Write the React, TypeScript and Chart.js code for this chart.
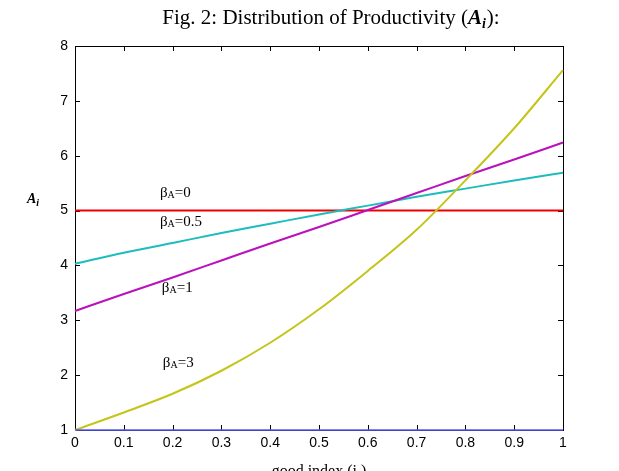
import React, { useEffect, useRef } from "react";
import { Chart, registerables } from "chart.js";

Chart.register(...registerables);

// good index i on [0, 1]
const goodIndex = [0, 0.1, 0.2, 0.3, 0.4, 0.5, 0.6, 0.7, 0.8, 0.9, 1];

// productivity A_i for each beta_A
const betaA0 = [5, 5, 5, 5, 5, 5, 5, 5, 5, 5, 5];
const betaA05 = [4.03, 4.23, 4.41, 4.59, 4.76, 4.93, 5.09, 5.25, 5.4, 5.55, 5.69];
const betaA1 = [3.17, 3.48, 3.78, 4.09, 4.4, 4.7, 5.01, 5.32, 5.63, 5.93, 6.24];
const betaA3 = [1.0, 1.32, 1.66, 2.08, 2.59, 3.2, 3.9, 4.65, 5.55, 6.5, 7.56];
const baseline = [1, 1, 1, 1, 1, 1, 1, 1, 1, 1, 1];

const xTicks = [0, 0.1, 0.2, 0.3, 0.4, 0.5, 0.6, 0.7, 0.8, 0.9, 1];
const xTickLabels = ["0", "0.1", "0.2", "0.3", "0.4", "0.5", "0.6", "0.7", "0.8", "0.9", "1"];
const yTicks = [1, 2, 3, 4, 5, 6, 7, 8];
const yTickLabels = ["1", "2", "3", "4", "5", "6", "7", "8"];

// curve labels: [value text, x in data units, y in data units]
const curveLabels: [string, number, number][] = [
  ["0", 0.174, 5.25],
  ["0.5", 0.174, 4.72],
  ["1", 0.178, 3.52],
  ["3", 0.18, 2.15],
];

const tickFont = "14px 'Liberation Sans', Arial, sans-serif";
const serif = "'Liberation Serif', 'Times New Roman', serif";

const frame = {
  id: "matlabFrame",
  beforeDatasetsDraw(chart: any) {
    const { ctx, chartArea: a, scales } = chart;
    const xs = scales.x;
    const ys = scales.y;
    ctx.save();
    ctx.strokeStyle = "#000";
    ctx.lineWidth = 1;
    ctx.strokeRect(Math.round(a.left) + 0.5, Math.round(a.top) + 0.5, Math.round(a.right - a.left), Math.round(a.bottom - a.top));
    const tl = 5;
    ctx.beginPath();
    xTicks.forEach((v) => {
      const px = Math.round(xs.getPixelForValue(v)) + 0.5;
      ctx.moveTo(px, a.bottom);
      ctx.lineTo(px, a.bottom - tl);
      ctx.moveTo(px, a.top);
      ctx.lineTo(px, a.top + tl);
    });
    yTicks.forEach((v) => {
      const py = Math.round(ys.getPixelForValue(v)) + 0.5;
      ctx.moveTo(a.left, py);
      ctx.lineTo(a.left + tl, py);
      ctx.moveTo(a.right, py);
      ctx.lineTo(a.right - tl, py);
    });
    ctx.stroke();
    ctx.restore();
  },
  afterDraw(chart: any) {
    const { ctx, chartArea: a, scales } = chart;
    const xs = scales.x;
    const ys = scales.y;
    ctx.save();
    ctx.fillStyle = "#000";

    // tick labels
    ctx.font = tickFont;
    ctx.textAlign = "center";
    ctx.textBaseline = "top";
    xTicks.forEach((v, i) => ctx.fillText(xTickLabels[i], xs.getPixelForValue(v), a.bottom + 6));
    ctx.textAlign = "right";
    ctx.textBaseline = "middle";
    yTicks.forEach((v, i) => ctx.fillText(yTickLabels[i], a.left - 7, ys.getPixelForValue(v)));

    // title
    ctx.textBaseline = "alphabetic";
    ctx.textAlign = "left";
    const t1 = "Fig. 2: Distribution of Productivity (";
    const fMain = `21px ${serif}`;
    const fA = `bold italic 21px ${serif}`;
    const fSub = `bold italic 14px ${serif}`;
    ctx.font = fMain;
    const w1 = ctx.measureText(t1).width;
    const w3 = ctx.measureText("):").width;
    ctx.font = fA;
    const w2 = ctx.measureText("A").width;
    ctx.font = fSub;
    const wSub = ctx.measureText("i").width;
    const total = w1 + w2 + wSub + 1 + w3;
    let tx = 331 - total / 2;
    const ty = 24;
    ctx.font = fMain;
    ctx.fillText(t1, tx, ty);
    tx += w1;
    ctx.font = fA;
    ctx.fillText("A", tx, ty);
    tx += w2;
    ctx.font = fSub;
    ctx.fillText("i", tx, ty + 4);
    tx += wSub + 1;
    ctx.font = fMain;
    ctx.fillText("):", tx, ty);

    // y axis label A_i
    ctx.font = `bold italic 14px ${serif}`;
    ctx.fillText("A", 27, 203);
    const wa = ctx.measureText("A").width;
    ctx.font = `bold italic 10px ${serif}`;
    ctx.fillText("i", 27 + wa, 206);

    // x axis label
    ctx.font = `16px ${serif}`;
    ctx.textAlign = "center";
    ctx.fillText("good index (i )", (a.left + a.right) / 2, 476);

    // curve labels
    ctx.textAlign = "left";
    curveLabels.forEach(([val, xv, yv]) => {
      let lx = xs.getPixelForValue(xv);
      const ly = ys.getPixelForValue(yv);
      ctx.font = `15px ${serif}`;
      ctx.fillText("β", lx, ly);
      lx += ctx.measureText("β").width;
      ctx.font = `10px ${serif}`;
      ctx.fillText("A", lx, ly + 1);
      lx += ctx.measureText("A").width;
      ctx.font = `15px ${serif}`;
      ctx.fillText("=" + val, lx, ly);
    });
    ctx.restore();
  },
};

function series(label: string, data: number[], color: string, width: number) {
  return {
    label,
    data: data.map((y, i) => ({ x: goodIndex[i], y })),
    borderColor: color,
    backgroundColor: color,
    borderWidth: width,
    pointRadius: 0,
    cubicInterpolationMode: "monotone" as const,
    fill: false,
    clip: false as any,
  };
}

export default function App() {
  const ref = useRef<HTMLCanvasElement | null>(null);
  useEffect(() => {
    if (!ref.current) return;
    const chart = new Chart(ref.current, {
      type: "line",
      data: {
        datasets: [
          series("baseline", baseline, "#5a5aff", 1.5),
          series("βA=3", betaA3, "#c4c41a", 2),
          series("βA=1", betaA1, "#bb10bb", 2),
          series("βA=0.5", betaA05, "#1ebcbc", 2),
          series("βA=0", betaA0, "#ee0000", 2),
        ],
      },
      options: {
        responsive: false,
        animation: false,
        events: [],
        layout: { padding: { left: 75, right: 56, top: 46, bottom: 41 } },
        plugins: { legend: { display: false }, tooltip: { enabled: false }, title: { display: false } },
        scales: {
          x: { type: "linear", min: 0, max: 1, display: false },
          y: { type: "linear", min: 1, max: 8, display: false },
        },
      },
      plugins: [frame],
    });
    return () => chart.destroy();
  }, []);
  return (
    <div style={{ position: "absolute", left: 0, top: 0, width: 619, height: 471, background: "#fff" }}>
      <canvas ref={ref} width={619} height={471} style={{ display: "block" }} />
    </div>
  );
}
